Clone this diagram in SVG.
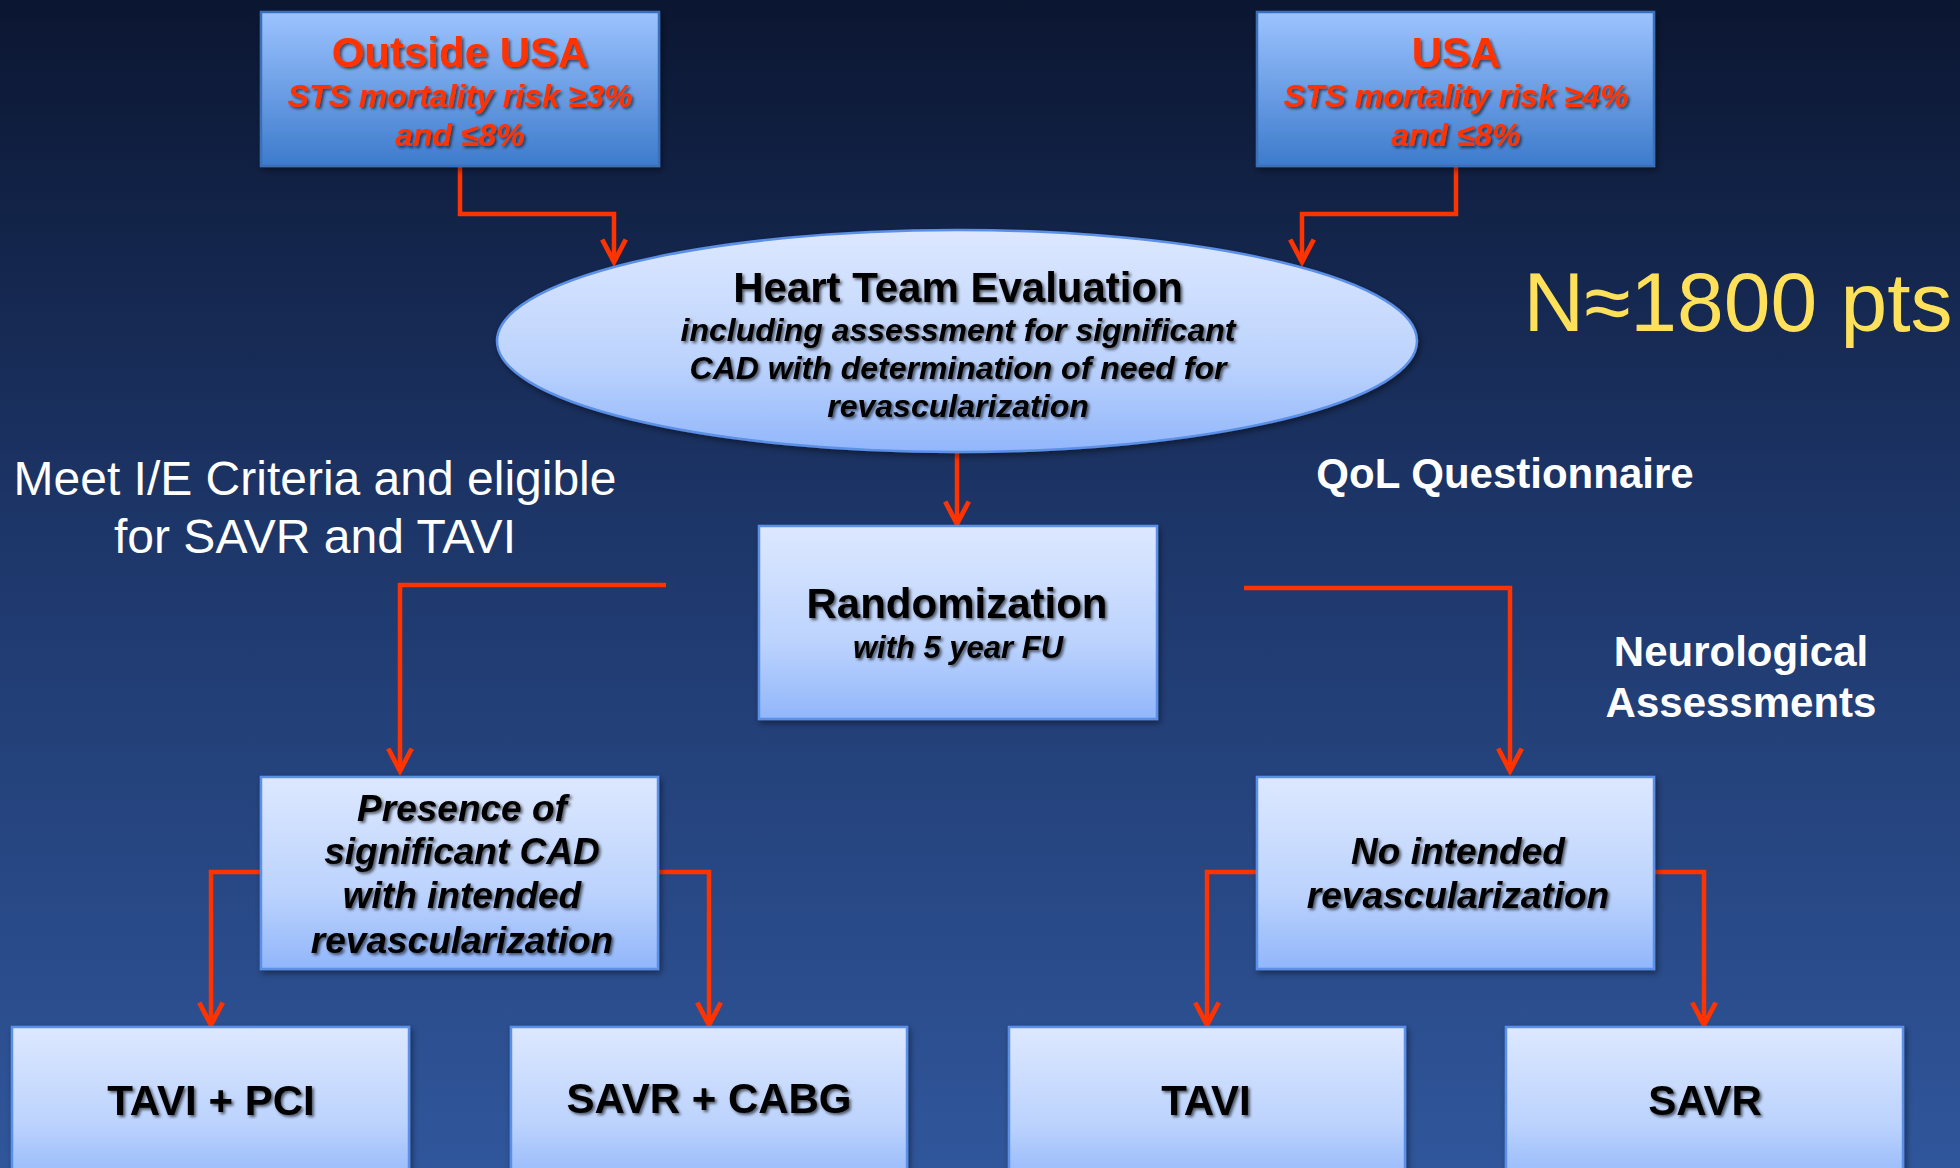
<svg xmlns="http://www.w3.org/2000/svg" width="1960" height="1168" viewBox="0 0 1960 1168">
<defs>
<linearGradient id="bg" x1="0" y1="0" x2="0" y2="1">
<stop offset="0" stop-color="#0b1631"/>
<stop offset="0.45" stop-color="#1d3669"/>
<stop offset="1" stop-color="#30569b"/>
</linearGradient>
<linearGradient id="topBox" x1="0" y1="0" x2="0" y2="1">
<stop offset="0" stop-color="#9cc3ff"/>
<stop offset="1" stop-color="#3d7bcc"/>
</linearGradient>
<linearGradient id="lightBox" x1="0" y1="0" x2="0" y2="1">
<stop offset="0" stop-color="#dde8ff"/>
<stop offset="0.6" stop-color="#bcd3fd"/>
<stop offset="1" stop-color="#91b6fb"/>
</linearGradient>
<filter id="boxShadow" x="-10%" y="-10%" width="120%" height="130%">
<feDropShadow dx="2" dy="3" stdDeviation="3" flood-color="#000" flood-opacity="0.45"/>
</filter>
<filter id="txtShadow" x="-5%" y="-20%" width="110%" height="150%">
<feDropShadow dx="2" dy="2" stdDeviation="1.5" flood-color="#000" flood-opacity="0.6"/>
</filter>
<marker id="arr" markerUnits="userSpaceOnUse" markerWidth="30" markerHeight="30" viewBox="-24 -14 28 28" refX="0" refY="0" orient="auto">
<path d="M-21,-11 L0,0 L-21,11" fill="none" stroke="#ff3300" stroke-width="4.5" stroke-linejoin="miter"/>
</marker>
</defs>
<style>
.box{stroke:#5b8fe6;stroke-width:2.5;filter:url(#boxShadow)}
.top{fill:url(#topBox);stroke:#3a6fb8}
.light{fill:url(#lightBox)}
.conn{fill:none;stroke:#ff3300;stroke-width:4.5;marker-end:url(#arr)}
text{font-family:"Liberation Sans",Arial,sans-serif;text-anchor:middle}
.red{fill:#ff3300;font-weight:bold;filter:url(#txtShadow)}
.blk{fill:#000;font-weight:bold;filter:url(#txtShadow)}
.it{font-style:italic}
.wht{fill:#fff}
</style>
<rect x="0" y="0" width="1960" height="1168" fill="url(#bg)"/>

<g id="connectors">
<path class="conn" d="M460,166 V214 H614 V262"/>
<path class="conn" d="M1456,166 V214 H1302 V262"/>
<path class="conn" d="M957,452 V524"/>
<path class="conn" d="M666,585 H400 V771"/>
<path class="conn" d="M1244,588 H1510 V771"/>
<path class="conn" d="M261,872 H211 V1025"/>
<path class="conn" d="M658,872 H709 V1025"/>
<path class="conn" d="M1257,872 H1207 V1025"/>
<path class="conn" d="M1654,872 H1704 V1025"/>
</g>

<g id="outside-usa">
<rect class="box top" x="261" y="12" width="398" height="154"/>
<text class="red" x="460" y="67" font-size="42">Outside USA</text>
<text class="red it" x="460" y="107" font-size="32">STS mortality risk ≥3%</text>
<text class="red it" x="460" y="146" font-size="32">and ≤8%</text>
</g>

<g id="usa">
<rect class="box top" x="1257" y="12" width="397" height="154"/>
<text class="red" x="1456" y="67" font-size="42">USA</text>
<text class="red it" x="1456" y="107" font-size="32">STS mortality risk ≥4%</text>
<text class="red it" x="1456" y="146" font-size="32">and ≤8%</text>
</g>

<g id="heart-team">
<ellipse class="box light" cx="957" cy="341" rx="460" ry="111"/>
<text class="blk" x="958" y="302" font-size="42">Heart Team Evaluation</text>
<text class="blk it" x="958" y="341" font-size="32">including assessment for significant</text>
<text class="blk it" x="958" y="379" font-size="32">CAD with determination of need for</text>
<text class="blk it" x="958" y="417" font-size="32">revascularization</text>
</g>

<g id="n-pts">
<text x="1738" y="331" font-size="84" fill="#ffe05a">N≈1800 pts</text>
</g>

<g id="criteria">
<text class="wht" x="315" y="495" font-size="48">Meet I/E Criteria and eligible</text>
<text class="wht" x="315" y="553" font-size="48">for SAVR and TAVI</text>
</g>

<g id="qol">
<text class="wht" x="1505" y="488" font-size="42" font-weight="bold">QoL Questionnaire</text>
</g>

<g id="neuro">
<text class="wht" x="1741" y="666" font-size="42" font-weight="bold">Neurological</text>
<text class="wht" x="1741" y="717" font-size="42" font-weight="bold">Assessments</text>
</g>

<g id="randomization">
<rect class="box light" x="759" y="526" width="398" height="193"/>
<text class="blk" x="957" y="618" font-size="42">Randomization</text>
<text class="blk it" x="958" y="658" font-size="31">with 5 year FU</text>
</g>

<g id="presence-cad">
<rect class="box light" x="261" y="777" width="397" height="192"/>
<text class="blk it" x="462" y="821" font-size="37">Presence of</text>
<text class="blk it" x="462" y="864" font-size="37">significant CAD</text>
<text class="blk it" x="462" y="908" font-size="37">with intended</text>
<text class="blk it" x="462" y="953" font-size="37">revascularization</text>
</g>

<g id="no-revasc">
<rect class="box light" x="1257" y="777" width="397" height="192"/>
<text class="blk it" x="1458" y="864" font-size="37">No intended</text>
<text class="blk it" x="1458" y="908" font-size="37">revascularization</text>
</g>

<g id="tavi-pci">
<rect class="box light" x="12" y="1027" width="397" height="160"/>
<text class="blk" x="211" y="1115" font-size="42">TAVI + PCI</text>
</g>

<g id="savr-cabg">
<rect class="box light" x="511" y="1027" width="396" height="160"/>
<text class="blk" x="709" y="1113" font-size="42">SAVR + CABG</text>
</g>

<g id="tavi">
<rect class="box light" x="1009" y="1027" width="396" height="160"/>
<text class="blk" x="1206" y="1115" font-size="42">TAVI</text>
</g>

<g id="savr">
<rect class="box light" x="1506" y="1027" width="397" height="160"/>
<text class="blk" x="1705" y="1115" font-size="42">SAVR</text>
</g>
</svg>
